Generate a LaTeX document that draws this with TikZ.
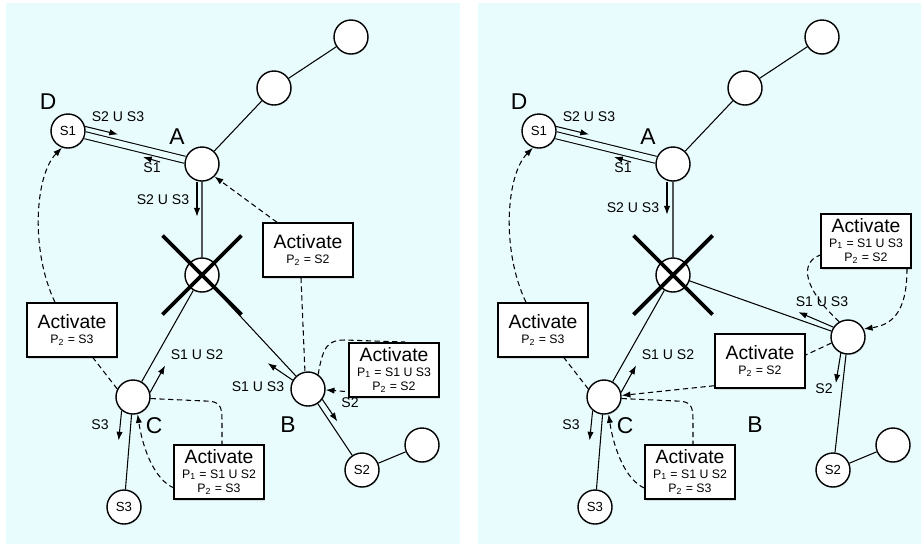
\documentclass[tikz,border=0pt]{standalone}
\usepackage{fontspec}
\setmainfont{Liberation Sans}
\usepackage{xcolor}
\usepackage{tikz}
\usetikzlibrary{arrows.meta,shadows}
\definecolor{skybg}{HTML}{E9FCFD}

\begin{document}
\begin{tikzpicture}[
  nd/.style={circle, draw=black, line width=0.8pt, minimum size=6.8mm, inner sep=0pt, fill=white, font=\fontsize{7.5}{8}\selectfont, drop shadow={opacity=0.18, shadow xshift=0.4pt, shadow yshift=-0.7pt}},
  act/.style={draw=black, line width=0.8pt, fill=white, minimum width=18mm, minimum height=10.8mm, inner sep=1pt, align=center, font=\fontsize{11}{8.2}\selectfont, drop shadow={opacity=0.25, shadow xshift=0.8pt, shadow yshift=-0.9pt}},
  link/.style={black, line width=0.6pt},
  dbl/.style={black, line width=0.6pt, double=skybg, double distance=3.4pt},
  msg/.style={black, line width=0.6pt, -{Latex[length=5pt,width=3.6pt]}},
  actline/.style={black, line width=0.6pt, dash pattern=on 3pt off 2pt},
  lab/.style={font=\fontsize{8}{9}\selectfont, inner sep=0pt},
  big/.style={font=\fontsize{13}{14}\selectfont, inner sep=0pt},
  cross/.style={line width=2.2pt}
]
\useasboundingbox (0,0) rectangle (18.42,-10.90);
\fill[skybg] (0.12,-0.06) rectangle (9.20,-10.88);
\fill[skybg] (9.56,-0.06) rectangle (18.42,-10.88);

% left panel: B still below the broken node
\node[nd] (t1) at (7.02,-0.74) {};
\node[nd] (m1) at (5.48,-1.76) {};
\node[nd] (a1) at (4.04,-3.28) {};
\node[nd] (d1) at (1.36,-2.62) {S1};
\node[nd] (x1) at (4.04,-5.50) {};
\node[nd] (c1) at (2.66,-7.94) {};
\node[nd] (b1) at (6.16,-7.78) {};
\node[nd] (s21) at (7.24,-9.40) {S2};
\node[nd] (e1) at (8.44,-8.90) {};
\node[nd] (s31) at (2.48,-10.14) {S3};
\node[big] (ld1) at (0.96,-2.04) {D};
\node[big] (la1) at (3.54,-2.74) {A};
\node[big] (lc1) at (3.08,-8.52) {C};
\node[big] (lb1) at (5.76,-8.50) {B};

\draw[link] (a1)--(m1) (m1)--(t1) (a1)--(x1) (x1)--(c1) (x1)--(b1) (b1)--(s21) (s21)--(e1) (c1)--(s31);
\draw[dbl] (d1)--(a1);
\draw[cross] ([shift={(-0.79,0.79)}]x1.center) -- ([shift={(0.79,-0.79)}]x1.center);
\draw[cross] ([shift={(0.79,0.79)}]x1.center) -- ([shift={(-0.79,-0.79)}]x1.center);

\node[act] (act1) at (6.16,-5.00) {Activate\\{\fontsize{7}{8}\selectfont P\textsubscript{2} = S2}};
\node[act] (act2) at (1.44,-6.60) {Activate\\{\fontsize{7}{8}\selectfont P\textsubscript{2} = S3}};

% activate messages
\draw[actline] ([xshift=-0.14cm]act1.south) -- (b1.100);
\draw[actline, -{Latex[length=5pt,width=3.6pt]}] ([xshift=-0.62cm]act1.north) -- (a1.-45);
\draw[actline] (c1.153) -- ([xshift=0.42cm]act2.south);
\draw[actline, -{Latex[length=5pt,width=3.6pt]}] ([xshift=-0.34cm]act2.north) .. controls (0.60,-5.00) and (0.70,-3.50) .. (d1.-110);
\draw[actline] (c1.-5) -- (4.10,-8.02) .. controls (4.40,-8.02) and (4.44,-8.12) .. (4.44,-8.40) -- (4.44,-8.90);
\draw[actline, -{Latex[length=5pt,width=3.6pt]}] (3.48,-9.76) .. controls (3.10,-9.60) and (2.86,-9.00) .. (c1.-75);
\draw[actline] (b1.55) .. controls (6.46,-6.92) and (6.56,-6.80) .. (6.90,-6.80) -- (8.10,-6.84);
\draw[actline, -{Latex[length=5pt,width=3.6pt]}] (8.30,-7.94) -- (b1.-3);

\node[act] (act3) at (7.88,-7.40) {Activate\\{\fontsize{7}{8}\selectfont P\textsubscript{1} = S1 U S3}\\{\fontsize{7}{8}\selectfont P\textsubscript{2} = S2}};
\node[act] (act4) at (4.38,-9.44) {Activate\\{\fontsize{7}{8}\selectfont P\textsubscript{1} = S1 U S2}\\{\fontsize{7}{8}\selectfont P\textsubscript{2} = S3}};

% sets handed along the links
\draw[msg] (d1.15) -- ++(0.66,-0.16);
\draw[msg] (3.20,-3.24) -- ++(-0.34,0.10);
\draw[msg] ([xshift=-0.10cm]a1.south) -- ++(0,-0.70);
\draw[msg] (c1.15) -- ++(0.30,0.54);
\draw[msg] (c1.-130) -- ++(-0.06,-0.60);
\draw[msg] (b1.150) -- ++(-0.50,0.34);
\draw[msg] (b1.-36) -- ++(0.30,-0.44);
\node[lab] (l11) at (2.36,-2.34) {S2 U S3};
\node[lab] (l12) at (3.04,-3.36) {S1};
\node[lab] (l13) at (3.26,-4.00) {S2 U S3};
\node[lab] (l14) at (3.94,-7.10) {S1 U S2};
\node[lab] (l15) at (2.00,-8.50) {S3};
\node[lab] (l16) at (5.16,-7.74) {S1 U S3};
\node[lab] (l17) at (7.00,-8.06) {S2};

% right panel: B moved up to the right
\node[nd] (t2) at (16.44,-0.74) {};
\node[nd] (m2) at (14.90,-1.76) {};
\node[nd] (a2) at (13.46,-3.28) {};
\node[nd] (d2) at (10.78,-2.62) {S1};
\node[nd] (x2) at (13.46,-5.50) {};
\node[nd] (c2) at (12.08,-7.94) {};
\node[nd] (b2) at (16.96,-6.74) {};
\node[nd] (s22) at (16.66,-9.40) {S2};
\node[nd] (e2) at (17.86,-8.90) {};
\node[nd] (s32) at (11.90,-10.14) {S3};
\node[big] (ld2) at (10.38,-2.04) {D};
\node[big] (la2) at (12.96,-2.74) {A};
\node[big] (lc2) at (12.50,-8.52) {C};
\node[big] (lb2) at (15.10,-8.50) {B};

\draw[link] (a2)--(m2) (m2)--(t2) (a2)--(x2) (x2)--(c2) (x2)--(b2) (b2)--(s22) (s22)--(e2) (c2)--(s32);
\draw[dbl] (d2)--(a2);
\draw[cross] ([shift={(-0.79,0.79)}]x2.center) -- ([shift={(0.79,-0.79)}]x2.center);
\draw[cross] ([shift={(0.79,0.79)}]x2.center) -- ([shift={(-0.79,-0.79)}]x2.center);

\node[act] (act5) at (10.86,-6.60) {Activate\\{\fontsize{7}{8}\selectfont P\textsubscript{2} = S3}};
\node[act] (act6) at (17.32,-4.82) {Activate\\{\fontsize{7}{8}\selectfont P\textsubscript{1} = S1 U S3}\\{\fontsize{7}{8}\selectfont P\textsubscript{2} = S2}};
\node[act] (act7) at (15.20,-7.22) {Activate\\{\fontsize{7}{8}\selectfont P\textsubscript{2} = S2}};
\node[act] (act8) at (13.80,-9.44) {Activate\\{\fontsize{7}{8}\selectfont P\textsubscript{1} = S1 U S2}\\{\fontsize{7}{8}\selectfont P\textsubscript{2} = S3}};

% activate messages
\draw[actline] (c2.153) -- ([xshift=0.42cm]act5.south);
\draw[actline, -{Latex[length=5pt,width=3.6pt]}] ([xshift=-0.34cm]act5.north) .. controls (10.02,-5.00) and (10.12,-3.50) .. (d2.-110);
\draw[actline] (c2.-5) -- (13.52,-8.02) .. controls (13.82,-8.02) and (13.86,-8.12) .. (13.86,-8.40) -- ([xshift=0.06cm]act8.north);
\draw[actline, -{Latex[length=5pt,width=3.6pt]}] ([yshift=-0.32cm]act8.west) .. controls (12.52,-9.60) and (12.28,-9.00) .. (c2.-75);
\draw[actline] (b2.120) .. controls (16.10,-5.80) and (15.96,-5.26) .. ([yshift=-0.28cm]act6.west);
\draw[actline, -{Latex[length=5pt,width=3.6pt]}] ([xshift=0.82cm]act6.south) .. controls (18.14,-6.30) and (17.80,-6.50) .. (b2.27);
\draw[actline] (b2.200) -- ([yshift=0.12cm]act7.east);
\draw[actline, -{Latex[length=5pt,width=3.6pt]}] ([yshift=0.06cm]act7.south west) -- (c2.5);

% sets handed along the links
\draw[msg] (d2.15) -- ++(0.66,-0.16);
\draw[msg] (12.62,-3.24) -- ++(-0.34,0.10);
\draw[msg] ([xshift=-0.12cm]a2.south) -- ++(0,-0.66);
\draw[msg] (c2.15) -- ++(0.30,0.54);
\draw[msg] (c2.-130) -- ++(-0.06,-0.60);
\draw[msg] (b2.146) -- ++(-0.70,0.30);
\draw[msg] (b2.-114) -- ++(-0.10,-0.60);
\node[lab] (l21) at (11.78,-2.34) {S2 U S3};
\node[lab] (l22) at (12.46,-3.36) {S1};
\node[lab] (l23) at (12.66,-4.16) {S2 U S3};
\node[lab] (l24) at (13.36,-7.10) {S1 U S2};
\node[lab] (l25) at (11.42,-8.50) {S3};
\node[lab] (l26) at (16.44,-6.04) {S1 U S3};
\node[lab] (l27) at (16.48,-7.78) {S2};
\end{tikzpicture}
\end{document}
